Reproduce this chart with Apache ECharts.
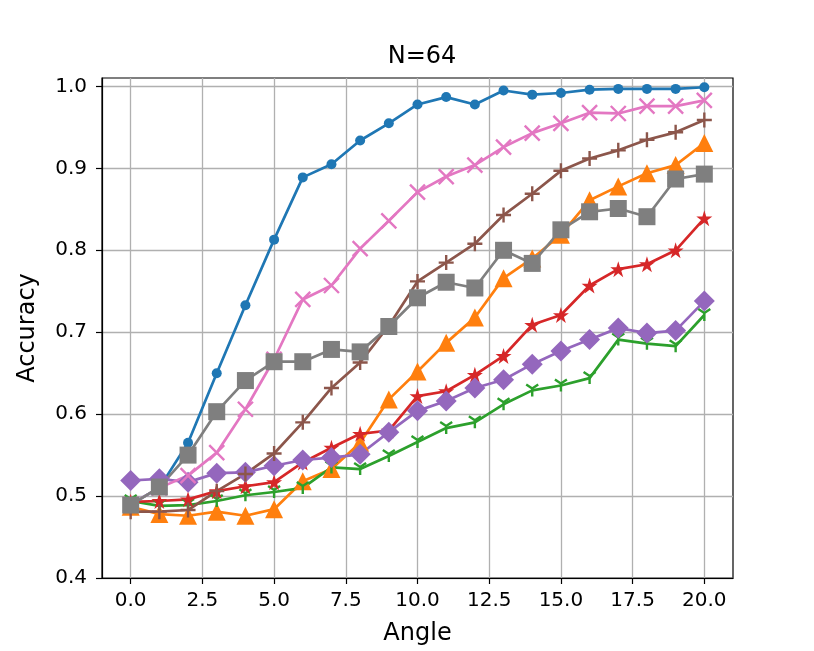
<!DOCTYPE html>
<html>
<head>
<meta charset="utf-8">
<script src="https://cdn.jsdelivr.net/npm/echarts@6/dist/echarts.min.js"></script>
<style>
  html, body { margin: 0; padding: 0; background: #fff; }
  #chart { width: 814px; height: 651px; }
</style>
</head>
<body>
<div id="chart"></div>
<script>
// 数据：角度 → 各方法准确率
const angles = [0, 1, 2, 3, 4, 5, 6, 7, 8, 9, 10, 11, 12, 13, 14, 15, 16, 17, 18, 19, 20];
const blue   = [0.490, 0.510, 0.565, 0.650, 0.733, 0.813, 0.889, 0.905, 0.934, 0.955, 0.978, 0.987, 0.978, 0.995, 0.990, 0.992, 0.996, 0.997, 0.997, 0.997, 0.999];
const orange = [0.487, 0.478, 0.476, 0.481, 0.476, 0.484, 0.518, 0.533, 0.565, 0.618, 0.652, 0.687, 0.718, 0.766, 0.790, 0.819, 0.861, 0.878, 0.894, 0.904, 0.931];
const green  = [0.494, 0.488, 0.489, 0.494, 0.501, 0.505, 0.510, 0.535, 0.533, 0.549, 0.566, 0.583, 0.590, 0.612, 0.629, 0.635, 0.644, 0.691, 0.686, 0.683, 0.721];
const red    = [0.493, 0.494, 0.496, 0.506, 0.512, 0.517, 0.541, 0.559, 0.576, 0.580, 0.622, 0.628, 0.648, 0.671, 0.709, 0.721, 0.757, 0.777, 0.783, 0.800, 0.839];
const purple = [0.519, 0.521, 0.517, 0.528, 0.529, 0.537, 0.544, 0.547, 0.551, 0.578, 0.604, 0.616, 0.632, 0.642, 0.661, 0.677, 0.691, 0.705, 0.699, 0.702, 0.738];
const brown  = [0.481, 0.481, 0.483, 0.506, 0.527, 0.552, 0.590, 0.632, 0.663, 0.708, 0.762, 0.785, 0.808, 0.843, 0.869, 0.897, 0.912, 0.922, 0.935, 0.944, 0.959];
const pink   = [0.490, 0.510, 0.525, 0.553, 0.606, 0.667, 0.740, 0.757, 0.802, 0.836, 0.871, 0.890, 0.904, 0.926, 0.943, 0.955, 0.968, 0.967, 0.976, 0.976, 0.983];
const gray   = [0.489, 0.511, 0.550, 0.603, 0.641, 0.664, 0.664, 0.679, 0.676, 0.707, 0.742, 0.761, 0.754, 0.800, 0.784, 0.825, 0.847, 0.851, 0.841, 0.887, 0.893];

const xTicks = [0, 2.5, 5, 7.5, 10, 12.5, 15, 17.5, 20];
const yTicks = [0.4, 0.5, 0.6, 0.7, 0.8, 0.9, 1.0];

// matplotlib 风格的标记形状
function starPath() {
  const pts = [];
  for (let i = 0; i < 10; i++) {
    const r = i % 2 === 0 ? 10 : 3.8;
    const a = -Math.PI / 2 + i * Math.PI / 5;
    pts.push((r * Math.cos(a)).toFixed(2) + "," + (r * Math.sin(a)).toFixed(2));
  }
  return "path://M" + pts.join(" L") + " Z";
}
const PLUS = "path://M0,5 L10,5 M5,0 L5,10";
const CROSS = "path://M0,0 L10,10 M10,0 L0,10";
const TRI_DOWN = "path://M5,5 L5,10 M5,5 L0.67,2.5 M5,5 L9.33,2.5";

const SERIES = [
  { data: blue,   color: "#1f77b4", symbol: "circle",   size: 10 },
  { data: orange, color: "#ff7f0e", symbol: "triangle", size: 18 },
  { data: green,  color: "#2ca02c", symbol: TRI_DOWN,   size: 12, stroke: true },
  { data: red,    color: "#d62728", symbol: starPath(), size: 16 },
  { data: purple, color: "#9467bd", symbol: "diamond",  size: 21 },
  { data: brown,  color: "#8c564b", symbol: PLUS,       size: 15, stroke: true },
  { data: pink,   color: "#e377c2", symbol: CROSS,      size: 15, stroke: true },
  { data: gray,   color: "#7f7f7f", symbol: "rect",     size: 17 }
];

const FONT = "DejaVu Sans";
const chart = echarts.init(document.getElementById("chart"), null, { renderer: "canvas" });
chart.setOption({
  backgroundColor: "#fff",
  animation: false,
  title: {
    text: "N=64",
    left: 417, top: 40, textAlign: "center",
    textStyle: { fontFamily: FONT, fontSize: 24, fontWeight: "normal", color: "#000" }
  },
  grid: {
    left: 102, right: 81, top: 78, bottom: 72,
    show: true, borderColor: "#000", borderWidth: 1.2, backgroundColor: "transparent"
  },
  xAxis: {
    type: "value", min: -1, max: 21,
    name: "Angle", nameLocation: "middle", nameGap: 44,
    nameTextStyle: { fontFamily: FONT, fontSize: 24, color: "#000" },
    axisLine: { show: true, onZero: false, lineStyle: { color: "#000", width: 1.2 } },
    axisTick: { show: true, customValues: xTicks, length: 6, lineStyle: { color: "#000", width: 1.2 } },
    axisLabel: { customValues: xTicks, margin: 13, fontFamily: FONT, fontSize: 20, color: "#000",
      formatter: (v) => v.toFixed(1) },
    splitLine: { show: true, lineStyle: { color: "#b0b0b0", width: 1.3 } }
  },
  yAxis: {
    type: "value", min: 0.4, max: 1.0103,
    name: "Accuracy", nameLocation: "middle", nameGap: 62,
    nameTextStyle: { fontFamily: FONT, fontSize: 24, color: "#000" },
    axisLine: { show: true, onZero: false, lineStyle: { color: "#000", width: 1.2 } },
    axisTick: { show: true, customValues: yTicks, length: 6, lineStyle: { color: "#000", width: 1.2 } },
    axisLabel: { customValues: yTicks, margin: 15, fontFamily: FONT, fontSize: 20, color: "#000",
      formatter: (v) => v.toFixed(1) },
    splitLine: { show: true, lineStyle: { color: "#b0b0b0", width: 1.3 } }
  },
  series: SERIES.map((s) => ({
    type: "line",
    data: angles.map((a, i) => [a, s.data[i]]),
    symbol: s.symbol,
    symbolSize: s.size,
    showAllSymbol: true,
    lineStyle: { color: s.color, width: 2.7 },
    itemStyle: {
      color: s.color, opacity: 1,
      borderColor: s.color,
      borderWidth: s.stroke ? 2.4 : 0
    },
    emphasis: { disabled: true }
  }))
});
</script>
</body>
</html>
